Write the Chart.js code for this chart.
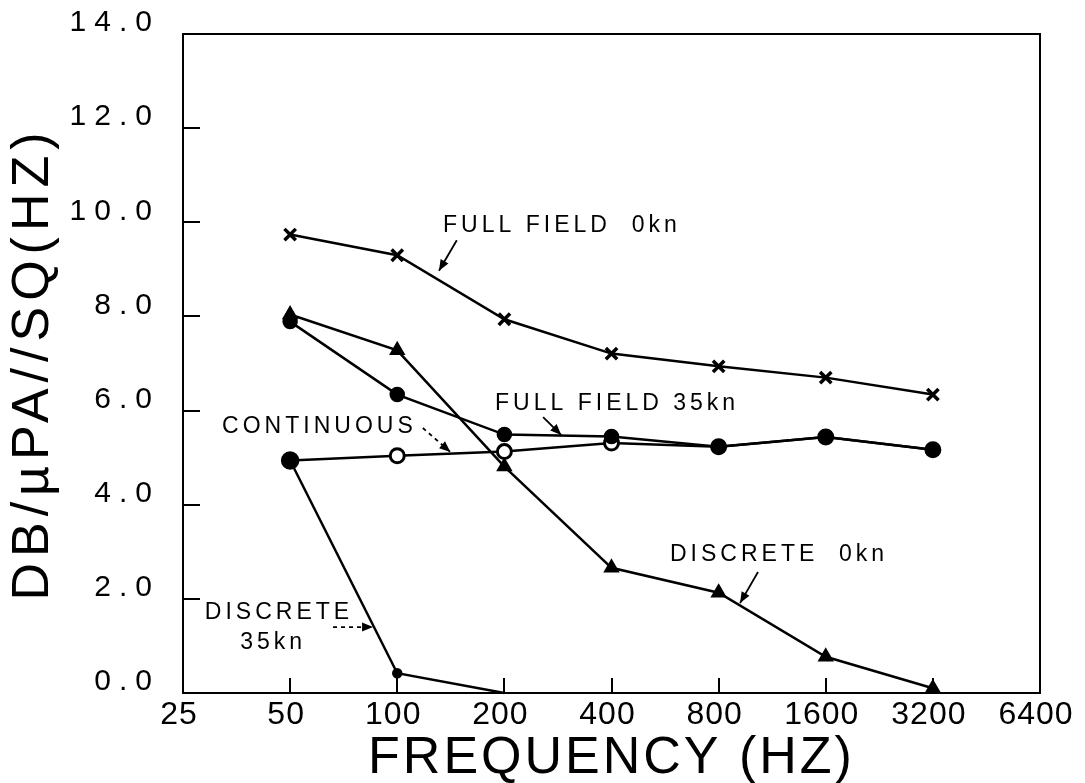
<!DOCTYPE html>
<html>
<head>
<meta charset="utf-8">
<script src="https://cdn.jsdelivr.net/npm/chart.js@4.4.1/dist/chart.umd.min.js"></script>
<style>
html,body{margin:0;padding:0;background:#fff;}
#wrap{width:1085px;height:783px;}
</style>
</head>
<body>
<div id="wrap"><canvas id="c" width="1085" height="783"></canvas></div>
<script>
// ---- data ----
const frequencies   = [50, 100, 200, 400, 800, 1600, 3200];
const fullField0kn  = [9.74, 9.30, 7.94, 7.21, 6.94, 6.70, 6.34];
const fullField35kn = [7.89, 6.34, 5.49, 5.45, 5.23, 5.44, 5.17];
const continuous    = [4.94, 5.04, 5.13, 5.31, 5.23, 5.44, 5.17];
const discrete0kn   = [8.04, 7.28, 4.81, 2.66, 2.13, 0.77, 0.10];
const discrete35kn  = [4.94, 0.42, 0.00];
const xTickLabels   = [25, 50, 100, 200, 400, 800, 1600, 3200, 6400];
const yTickValues   = [0, 2, 4, 6, 8, 10, 12, 14];

// annotation texts, anchored in data units (frequency, value)
const noteTexts  = ['FULL FIELD  0kn', 'FULL FIELD 35kn', 'CONTINUOUS', 'DISCRETE  0kn', 'DISCRETE', '35kn'];
const noteFreqs  = [134.5, 188.3, 32.2, 584, 28.8, 36.2];
const noteValues = [9.92, 6.14, 5.65, 2.93, 1.70, 1.08];
// arrows: start / end in data units
const arrowFromF = [147, 257, 118, 1032, 66];
const arrowFromV = [9.62, 5.86, 5.63, 2.57, 1.40];
const arrowToF   = [131, 289, 141, 919, 85.5];
const arrowToV   = [8.97, 5.48, 5.12, 1.91, 1.40];
const arrowDashed = [false, false, true, false, true];

function pts(xs, ys) { return ys.map((v, i) => ({ x: xs[i], y: v })); }

function withSpacing(scale, method, spacing) {
  const key = '_ls_' + method;
  if (scale[key]) return;
  const orig = scale[method];
  scale[method] = function (...args) {
    const ctx = this.ctx;
    const prev = ctx.letterSpacing;
    ctx.letterSpacing = spacing;
    try { return orig.apply(this, args); } finally { ctx.letterSpacing = prev; }
  };
  scale[key] = true;
}

const decor = {
  id: 'decor',
  afterLayout(chart) {
    withSpacing(chart.scales.y, 'drawLabels', '8px');
    withSpacing(chart.scales.y, 'drawTitle', '6px');
    withSpacing(chart.scales.x, 'drawLabels', '1px');
    withSpacing(chart.scales.x, 'drawTitle', '3px');
  },
  afterDraw(chart) {
    const { ctx, chartArea: a, scales: { x, y } } = chart;
    ctx.save();
    ctx.strokeStyle = '#000';
    ctx.fillStyle = '#000';
    ctx.lineWidth = 2;
    ctx.strokeRect(a.left, a.top, a.right - a.left, a.bottom - a.top);

    ctx.font = '23px "Liberation Sans", Arial, sans-serif';
    ctx.letterSpacing = '4px';
    ctx.textBaseline = 'middle';
    ctx.textAlign = 'left';
    noteTexts.forEach((t, i) => {
      ctx.fillText(t, x.getPixelForValue(noteFreqs[i]), y.getPixelForValue(noteValues[i]));
    });

    ctx.lineWidth = 1.8;
    arrowFromF.forEach((f, i) => {
      const x1 = x.getPixelForValue(f), y1 = y.getPixelForValue(arrowFromV[i]);
      const x2 = x.getPixelForValue(arrowToF[i]), y2 = y.getPixelForValue(arrowToV[i]);
      ctx.setLineDash(arrowDashed[i] ? [4, 4] : []);
      ctx.beginPath();
      ctx.moveTo(x1, y1);
      ctx.lineTo(x2, y2);
      ctx.stroke();
      ctx.setLineDash([]);
      const ang = Math.atan2(y2 - y1, x2 - x1);
      const L = 11, W = 4.5;
      ctx.beginPath();
      ctx.moveTo(x2, y2);
      ctx.lineTo(x2 - L * Math.cos(ang) + W * Math.sin(ang), y2 - L * Math.sin(ang) - W * Math.cos(ang));
      ctx.lineTo(x2 - L * Math.cos(ang) - W * Math.sin(ang), y2 - L * Math.sin(ang) + W * Math.cos(ang));
      ctx.closePath();
      ctx.fill();
    });
    ctx.restore();
  }
};

const common = { borderColor: '#000', borderWidth: 2.5, pointBorderColor: '#000', tension: 0, fill: false, clip: false };

new Chart(document.getElementById('c'), {
  type: 'line',
  data: {
    datasets: [
      Object.assign({}, common, { label: 'DISCRETE 35kn', data: pts(frequencies, discrete35kn),
        pointStyle: 'circle', pointRadius: [8, 4, 0], pointBackgroundColor: '#000', backgroundColor: '#000' }),
      Object.assign({}, common, { label: 'FULL FIELD 0kn', data: pts(frequencies, fullField0kn),
        pointStyle: 'crossRot', pointRadius: 8, pointBorderWidth: 3.5 }),
      Object.assign({}, common, { label: 'FULL FIELD 35kn', data: pts(frequencies, fullField35kn),
        pointStyle: 'circle', pointRadius: 6.5, pointBackgroundColor: '#000', backgroundColor: '#000' }),
      Object.assign({}, common, { label: 'DISCRETE 0kn', data: pts(frequencies, discrete0kn),
        pointStyle: 'triangle', pointRadius: 7, pointBackgroundColor: '#000', backgroundColor: '#000' }),
      Object.assign({}, common, { label: 'CONTINUOUS', data: pts(frequencies, continuous),
        pointStyle: 'circle', pointRadius: 7, pointBorderWidth: 3, pointBackgroundColor: '#fff', backgroundColor: '#fff' })
    ]
  },
  options: {
    responsive: false,
    animation: false,
    devicePixelRatio: 1,
    layout: { padding: { top: 34, right: 45, left: 0, bottom: 0 } },
    plugins: { legend: { display: false }, tooltip: { enabled: false } },
    scales: {
      x: {
        type: 'logarithmic', min: 25, max: 6400,
        afterBuildTicks: s => { s.ticks = xTickLabels.map(v => ({ value: v })); },
        afterFit: s => { s.height = 90; s.paddingLeft = 0; s.paddingRight = 0; },
        border: { color: '#000', width: 2 },
        grid: { drawOnChartArea: false, tickLength: -15, color: '#000', lineWidth: 2 },
        ticks: {
          color: '#000', autoSkip: false, maxRotation: 0, padding: 18, labelOffset: -4,
          font: { family: '"Liberation Sans", Arial, sans-serif', size: 32 },
          callback: v => String(v)
        },
        title: {
          display: true, text: 'FREQUENCY (HZ)', color: '#000', padding: 0,
          font: { family: '"Liberation Sans", Arial, sans-serif', size: 52, lineHeight: 0.95 }
        }
      },
      y: {
        min: 0, max: 14,
        afterBuildTicks: s => { s.ticks = yTickValues.map(v => ({ value: v })); },
        afterFit: s => { s.width = 183; s.paddingTop = 0; s.paddingBottom = 0; },
        border: { color: '#000', width: 2 },
        grid: { drawOnChartArea: false, tickLength: -17, color: '#000', lineWidth: 2 },
        ticks: {
          color: '#000', padding: 40, labelOffset: -11,
          font: { family: '"Liberation Sans", Arial, sans-serif', size: 30 },
          callback: v => Number(v).toFixed(1)
        },
        title: {
          display: true, text: 'DB/µPA//SQ(HZ)', color: '#000', padding: 2,
          font: { family: '"Liberation Sans", Arial, sans-serif', size: 52, lineHeight: 1.2 }
        }
      }
    }
  },
  plugins: [decor]
});
</script>
</body>
</html>
